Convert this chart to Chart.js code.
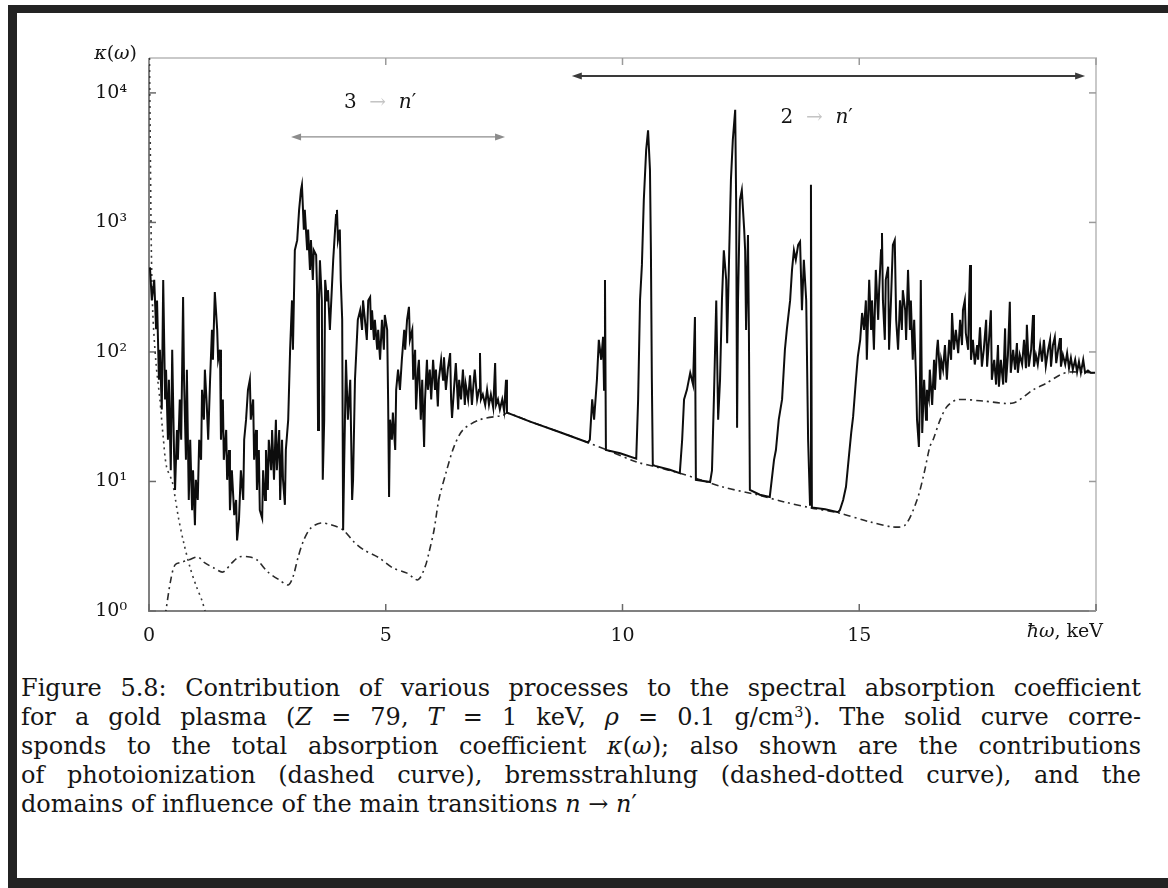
<!DOCTYPE html>
<html>
<head>
<meta charset="utf-8">
<script src="https://cdn.jsdelivr.net/npm/chart.js@4.4.1/dist/chart.umd.min.js"></script>
<style>
  html, body { margin: 0; padding: 0; background: #fff; }
  body { width: 1168px; height: 888px; position: relative; overflow: hidden; }
  .band { position: absolute; background: #232323; }
  #plotBox { position: absolute; left: 0; top: 0; width: 1168px; height: 660px; }
  #caption {
    position: absolute; left: 21px; top: 674px; width: 1120px;
    font-family: "DejaVu Serif", serif; font-size: 24px; line-height: 29px; color: #151515;
  }
  #caption .j { text-align: justify; text-align-last: justify; }
  #caption sup { font-size: 0.6em; line-height: 0; vertical-align: 0.55em; }
</style>
</head>
<body>
<div class="band" style="left:8px; top:5px; width:1160px; height:8px;"></div>
<div class="band" style="left:8px; top:5px; width:9px; height:883px;"></div>
<div class="band" style="left:8px; top:878px; width:1160px; height:10px;"></div>

<div id="plotBox"><canvas id="spectrumChart" width="1168" height="660"></canvas></div>

<div id="caption">
  <div class="j">Figure 5.8: Contribution of various processes to the spectral absorption coefficient</div>
  <div class="j">for a gold plasma (<i>Z</i> = 79, <i>T</i> = 1 keV, <i>ρ</i> = 0.1 g/cm<sup>3</sup>). The solid curve corre-</div>
  <div class="j">sponds to the total absorption coefficient <i>κ</i>(<i>ω</i>); also shown are the contributions</div>
  <div class="j">of photoionization (dashed curve), bremsstrahlung (dashed-dotted curve), and the</div>
  <div>domains of influence of the main transitions <i>n</i> → <i>n</i>′</div>
</div>

<script>
// axis ticks
const energyTicks = [0, 5, 10, 15, 20];
const energyTickLabels = ['0', '5', '10', '15', ''];
const kappaTicks = [1, 10, 100, 1000, 10000];
const kappaTickLabels = ['10⁰', '10¹', '10²', '10³', '10⁴'];

// total absorption coefficient (solid), keV / kappa
const totalEnergy = [
  0.02, 0.06, 0.11, 0.15, 0.17, 0.21, 0.23, 0.27, 0.30, 0.34,
  0.36, 0.40, 0.42, 0.46, 0.49, 0.53, 0.55, 0.59, 0.61, 0.65,
  0.68, 0.72, 0.74, 0.78, 0.80, 0.84, 0.87, 0.91, 0.93, 0.97,
  0.99, 1.03, 1.06, 1.10, 1.12, 1.16, 1.18, 1.22, 1.25, 1.29,
  1.33, 1.35, 1.39, 1.44, 1.46, 1.50, 1.52, 1.56, 1.58, 1.63,
  1.65, 1.69, 1.71, 1.75, 1.80, 1.84, 1.86, 1.90, 1.94, 1.99,
  2.01, 2.05, 2.09, 2.13, 2.15, 2.20, 2.22, 2.26, 2.28, 2.32,
  2.34, 2.39, 2.41, 2.45, 2.47, 2.51, 2.53, 2.58, 2.60, 2.64,
  2.68, 2.70, 2.75, 2.77, 2.81, 2.83, 2.87, 2.89, 2.94, 2.98,
  3.02, 3.04, 3.08,
  3.13, 3.17, 3.21, 3.23, 3.27, 3.29, 3.34, 3.36, 3.40, 3.42,
  3.46, 3.48, 3.53, 3.55, 3.57, 3.59, 3.61, 3.65, 3.67, 3.70,
  3.72, 3.76, 3.78, 3.82, 3.86, 3.89, 3.93, 3.95, 3.97, 3.99,
  4.03, 4.05, 4.08, 4.10, 4.12, 4.16, 4.20, 4.25, 4.29, 4.31,
  4.35, 4.39, 4.41, 4.46, 4.50, 4.52, 4.56, 4.60, 4.63, 4.67,
  4.69, 4.71, 4.75, 4.77, 4.82, 4.84, 4.88, 4.92, 4.96, 4.98,
  5.03, 5.05, 5.07, 5.09, 5.13, 5.15, 5.20, 5.22, 5.26, 5.30,
  5.34, 5.39, 5.41, 5.45, 5.49, 5.51, 5.56, 5.58, 5.62, 5.64,
  5.68, 5.70, 5.74, 5.77, 5.81, 5.83, 5.87, 5.89, 5.93, 5.96,
  6.00, 6.04, 6.06, 6.10, 6.12, 6.17, 6.21, 6.23, 6.27, 6.31,
  6.36, 6.38, 6.40, 6.44, 6.48, 6.53, 6.55, 6.59, 6.63, 6.67,
  6.69, 6.74, 6.78, 6.82, 6.86, 6.88, 6.93, 6.97, 6.99, 7.01,
  7.05, 7.10, 7.14, 7.18, 7.22, 7.27, 7.31, 7.33, 7.37, 7.41,
  7.46, 7.50, 7.54, 7.56,
  8.05, 8.68, 9.27, 9.31, 9.36, 9.40, 9.46, 9.50, 9.55, 9.59,
  9.61, 9.63, 9.65, 9.95, 10.29, 10.33, 10.37, 10.41, 10.45, 10.50,
  10.54, 10.58, 10.60, 10.62, 10.64, 10.69, 11.00, 11.21, 11.26, 11.30,
  11.36, 11.43, 11.49, 11.53, 11.55, 11.85, 11.89, 11.93, 11.98, 12.02,
  12.06, 12.10, 12.14, 12.19, 12.21, 12.25, 12.29, 12.33, 12.38, 12.40,
  12.42, 12.44, 12.48, 12.52, 12.57, 12.59, 12.61, 12.65, 12.67, 12.69,
  12.90, 13.11, 13.20, 13.24, 13.30, 13.37, 13.43, 13.47, 13.54, 13.58,
  13.62, 13.66, 13.71, 13.75, 13.79, 13.83, 13.88, 13.92, 13.96, 13.98,
  14.00, 14.28, 14.55,
  14.59, 14.66, 14.72, 14.78, 14.83, 14.87, 14.93, 14.97, 15.02, 15.06,
  15.10, 15.14, 15.16, 15.21, 15.25, 15.27, 15.31, 15.35, 15.40, 15.42,
  15.46, 15.48, 15.50, 15.54, 15.56, 15.61, 15.63, 15.67, 15.71, 15.75,
  15.78, 15.82, 15.86, 15.90, 15.92, 15.97, 15.99, 16.03, 16.07, 16.09,
  16.13, 16.16, 16.20, 16.22, 16.26, 16.28, 16.30, 16.33, 16.37, 16.41,
  16.43, 16.47, 16.49, 16.54, 16.58, 16.60, 16.64, 16.66, 16.71, 16.73,
  16.77, 16.81, 16.85, 16.90, 16.94, 16.96, 17.00, 17.04, 17.09, 17.13,
  17.17, 17.19, 17.23, 17.25, 17.30, 17.32, 17.34, 17.36, 17.40, 17.44,
  17.49, 17.51, 17.55, 17.59, 17.63, 17.68, 17.70, 17.74, 17.78, 17.80,
  17.85, 17.89, 17.93, 17.95, 17.99, 18.04, 18.08, 18.10, 18.14, 18.18,
  18.20, 18.25, 18.29, 18.33, 18.35, 18.39, 18.44, 18.48, 18.52, 18.54,
  18.58, 18.63, 18.67, 18.69, 18.73, 18.77, 18.82, 18.86, 18.90, 18.94,
  18.99, 19.03, 19.05, 19.09, 19.13, 19.16, 19.20, 19.24, 19.26, 19.30,
  19.35, 19.39, 19.43, 19.47, 19.51, 19.56, 19.60, 19.64, 19.68, 19.73,
  19.77, 19.83, 19.89, 19.98
];
const totalKappa = [
  450, 250, 360, 150, 250, 61, 104, 36, 360, 43,
  73, 21, 61, 12.2, 104, 16, 8.6, 25, 14.7, 43,
  21, 265, 61, 14.7, 73, 7.2, 21, 6.0, 12.2, 4.6,
  10.3, 7.2, 21, 14.7, 51, 30, 73, 39, 21, 61,
  148, 87, 290, 148, 87, 104, 21, 43, 14.7, 25,
  10.3, 17.5, 6.0, 12.2, 5.5, 7.2, 3.5, 5.0, 12.2, 7.2,
  21, 30, 51, 61, 30, 43, 14.7, 25, 8.6, 17.5,
  6.0, 5.2, 12.2, 7.2, 17.5, 8.6, 21, 12.2, 25, 10.3,
  30, 12.2, 25, 7.2, 21, 10.3, 6.6, 17.5, 30, 104,
  250, 104, 610,
  730, 1250, 1780, 1950, 880, 1250, 610, 880, 430, 730,
  360, 610, 560, 300, 25, 250, 510, 250, 10.3, 30,
  360, 250, 300, 148, 300, 510, 880, 1140, 1250, 730,
  880, 360, 177, 4.2, 12.2, 87, 30, 61, 7.2, 10.3,
  61, 124, 177, 210, 148, 250, 177, 124, 250, 265,
  148, 210, 124, 177, 104, 148, 87, 177, 104, 193,
  148, 43, 7.6, 30, 21, 34, 17.5, 51, 73, 51,
  87, 148, 104, 177, 223, 124, 148, 61, 104, 36,
  73, 87, 30, 61, 18.5, 43, 87, 51, 73, 43,
  87, 51, 73, 38, 61, 87, 61, 91, 51, 73,
  98, 43, 31, 51, 82, 36, 61, 43, 73, 39,
  56, 43, 66, 39, 61, 73, 43, 51, 98, 43,
  47, 39, 51, 39, 47, 37, 82, 39, 43, 36,
  43, 35, 61, 34,
  29, 24, 20, 21, 43, 30, 61, 124, 87, 131,
  51, 360, 17.5, 16.5, 15, 43, 250, 470, 1490, 3630,
  5150, 2550, 610, 61, 13.4, 13.2, 12.3, 11.6, 21, 43,
  51, 69, 56, 186, 10.3, 9.9, 12.2, 43, 250, 30,
  61, 250, 610, 360, 117, 515, 2130, 4340, 7400, 1490,
  26, 250, 1490, 1780, 880, 610, 148, 800, 140, 8.6,
  7.9, 7.6, 14.7, 17.5, 30, 43, 104, 148, 250, 430,
  610, 515, 670, 710, 210, 515, 250, 21, 6.6, 1950,
  6.3, 6.1, 5.8,
  6.0, 7.2, 9.1, 15.4, 23.7, 31.5, 61, 92, 124, 200,
  148, 250, 87, 360, 148, 250, 104, 430, 177, 300,
  610, 830, 250, 124, 360, 455, 104, 250, 670, 730,
  177, 104, 250, 148, 300, 210, 124, 430, 148, 250,
  87, 177, 61, 30, 18.5, 43, 360, 23.7, 61, 30,
  51, 43, 73, 39, 87, 51, 104, 124, 61, 87,
  73, 113, 61, 124, 87, 200, 104, 148, 98, 177,
  113, 210, 250, 140, 104, 250, 470, 87, 124, 80,
  113, 87, 155, 77, 104, 177, 77, 124, 210, 61,
  87, 56, 113, 54, 87, 56, 152, 58, 95, 244,
  69, 104, 73, 117, 69, 95, 80, 124, 75, 162,
  77, 104, 193, 77, 95, 80, 113, 84, 124, 78,
  104, 124, 77, 113, 130, 82, 104, 128, 77, 95,
  80, 98, 75, 90, 73, 87, 70, 84, 69, 87,
  69, 72, 69, 69
];

// photoionization (dashed)
const photoEnergy = [
  0.34, 0.36, 0.46, 0.55, 0.70, 0.84, 1.03, 1.18, 1.37, 1.56,
  1.75, 1.90, 2.13, 2.28, 2.51, 2.75, 2.94, 3.04, 3.15, 3.27,
  3.42, 3.63, 3.86, 4.10, 4.33, 4.54, 4.86, 5.15, 5.45, 5.68,
  5.83, 5.91, 6.02, 6.12, 6.27, 6.44, 6.63, 6.99, 7.48, 7.56,
  8.05, 8.68, 9.27, 9.67, 10.31, 10.73, 11.13, 11.55, 12.12, 12.86,
  13.43, 14.00, 14.57, 15.23, 15.71, 15.97, 16.22, 16.37, 16.49, 16.56,
  16.71, 16.85, 17.06, 17.61, 18.25, 18.67, 18.96, 19.24, 19.45, 19.98
];
const photoKappa = [
  0.9, 1.02, 1.74, 2.27, 2.39, 2.48, 2.61, 2.35, 2.15, 2.0,
  2.35, 2.61, 2.61, 2.48, 2.0, 1.74, 1.59, 1.83, 2.61, 3.54,
  4.38, 4.78, 4.61, 4.22, 3.41, 2.96, 2.57, 2.15, 1.96, 1.74,
  2.19, 2.80, 4.22, 7.2, 11.6, 18.5, 25, 30, 32.5, 33.8,
  29, 24, 20, 17.5, 14.1, 12.9, 11.8, 10.6, 9.06, 7.87,
  6.93, 6.23, 5.71, 4.87, 4.46, 4.61, 7.2, 11.6, 18.5, 21,
  30, 37.7, 42.7, 41.8, 40.4, 51, 57.6, 66.5, 70, 69
];

// bremsstrahlung (dashed-dotted)
const bremsEnergy = [0.01, 0.03, 0.05, 0.08, 0.15, 0.23, 0.30, 0.37, 0.49, 0.55, 0.62, 0.73, 0.87, 1.00, 1.12, 1.20];
const bremsKappa = [18600, 3000, 600, 200, 80, 43, 22, 13, 10, 7.6, 5.3, 3.4, 2.15, 1.55, 1.2, 0.95];

// domains of the main transitions n -> n'
const transitionLower = ['3', '2'];
const transitionFrom = [3.0, 8.93];
const transitionTo = [7.52, 19.77];
const transitionLevel = [4570, 13500];
const transitionLabelAt = [4.88, 14.1];
const transitionLabelLevel = [8350, 6440];

const serif = '"DejaVu Serif", serif';

function toPoints(xs, ys) {
    return xs.map((x, i) => ({ x: x, y: ys[i] }));
}

// draw a run of text pieces, [text, fontStyle, colour]
function drawPieces(ctx, pieces, x, y, size, align) {
    let width = 0;
    pieces.forEach(p => {
        ctx.font = `${p[1]} ${size}px ${serif}`;
        width += ctx.measureText(p[0]).width;
    });
    let cx = align === 'right' ? x - width : (align === 'center' ? x - width / 2 : x);
    ctx.textAlign = 'left';
    ctx.textBaseline = 'middle';
    pieces.forEach(p => {
        ctx.font = `${p[1]} ${size}px ${serif}`;
        ctx.fillStyle = p[2] || '#151515';
        ctx.fillText(p[0], cx, y);
        cx += ctx.measureText(p[0]).width;
    });
}

function arrowHead(ctx, x, y, dir) {
    ctx.beginPath();
    ctx.moveTo(x, y);
    ctx.lineTo(x - dir * 10, y - 3.5);
    ctx.lineTo(x - dir * 10, y + 3.5);
    ctx.closePath();
    ctx.fill();
}

const framePlugin = {
    id: 'framePlugin',
    beforeDatasetsDraw(chart) {
        const { ctx, chartArea: a, scales: { x, y } } = chart;
        ctx.save();
        ctx.lineWidth = 2;
        ctx.strokeStyle = '#c9c9c9';
        ctx.beginPath();
        ctx.moveTo(a.left, a.top);
        ctx.lineTo(a.right, a.top);
        ctx.lineTo(a.right, a.bottom);
        ctx.stroke();
        ctx.strokeStyle = '#808080';
        ctx.beginPath();
        ctx.moveTo(a.left, a.top);
        ctx.lineTo(a.left, a.bottom);
        ctx.lineTo(a.right, a.bottom);
        ctx.stroke();

        // inward ticks on all four sides
        ctx.lineWidth = 1.5;
        energyTicks.forEach(v => {
            const px = x.getPixelForValue(v);
            ctx.strokeStyle = '#6a6a6a';
            ctx.beginPath(); ctx.moveTo(px, a.bottom); ctx.lineTo(px, a.bottom - 7); ctx.stroke();
            ctx.strokeStyle = '#9a9a9a';
            ctx.beginPath(); ctx.moveTo(px, a.top); ctx.lineTo(px, a.top + 7); ctx.stroke();
        });
        kappaTicks.forEach(v => {
            const py = y.getPixelForValue(v);
            ctx.strokeStyle = '#6a6a6a';
            ctx.beginPath(); ctx.moveTo(a.left, py); ctx.lineTo(a.left + 7, py); ctx.stroke();
            ctx.strokeStyle = '#9a9a9a';
            ctx.beginPath(); ctx.moveTo(a.right, py); ctx.lineTo(a.right - 7, py); ctx.stroke();
        });
        ctx.restore();
    },
    afterDatasetsDraw(chart) {
        const { ctx, scales: { x, y } } = chart;
        ctx.save();

        // axis names
        drawPieces(ctx, [['κ', 'italic'], ['(', 'normal'], ['ω', 'italic'], [')', 'normal']], 137, 54, 19, 'right');
        drawPieces(ctx, [['ħω', 'italic'], [', keV', 'normal']], 1103, 632, 19, 'right');

        // transition domains
        transitionFrom.forEach((from, i) => {
            const x0 = x.getPixelForValue(from);
            const x1 = x.getPixelForValue(transitionTo[i]);
            const py = y.getPixelForValue(transitionLevel[i]);
            const colour = i === 0 ? '#8c8c8c' : '#3a3a3a';
            ctx.strokeStyle = colour;
            ctx.fillStyle = colour;
            ctx.lineWidth = i === 0 ? 1.3 : 2;
            ctx.beginPath();
            ctx.moveTo(x0 + 4, py);
            ctx.lineTo(x1 - 4, py);
            ctx.stroke();
            arrowHead(ctx, x0, py, -1);
            arrowHead(ctx, x1, py, 1);

            drawPieces(ctx, [
                [transitionLower[i], 'normal', '#151515'],
                ['  →  ', 'normal', '#c4c4c4'],
                ['n', 'italic', '#151515'],
                ['′', 'normal', '#151515']
            ], x.getPixelForValue(transitionLabelAt[i]), y.getPixelForValue(transitionLabelLevel[i]), 20, 'center');
        });
        ctx.restore();
    }
};

document.addEventListener('DOMContentLoaded', () => {
    const canvas = document.getElementById('spectrumChart');

    new Chart(canvas, {
        type: 'line',
        data: {
            datasets: [
                {
                    label: 'total',
                    data: toPoints(totalEnergy, totalKappa),
                    borderColor: '#0d0d0d',
                    borderWidth: 2,
                    pointRadius: 0,
                    tension: 0
                },
                {
                    label: 'photoionization',
                    data: toPoints(photoEnergy, photoKappa),
                    borderColor: '#2a2a2a',
                    borderWidth: 1.6,
                    borderDash: [7, 4, 2, 4],
                    pointRadius: 0,
                    tension: 0.3
                },
                {
                    label: 'bremsstrahlung',
                    data: toPoints(bremsEnergy, bremsKappa),
                    borderColor: '#3a3a3a',
                    borderWidth: 1.6,
                    borderDash: [2, 4],
                    pointRadius: 0,
                    tension: 0.3
                }
            ]
        },
        options: {
            responsive: false,
            animation: false,
            layout: { padding: { left: 0, top: 58, right: 72, bottom: 0 } },
            plugins: {
                legend: { display: false },
                tooltip: { enabled: false }
            },
            scales: {
                x: {
                    type: 'linear',
                    min: 0,
                    max: 20,
                    bounds: 'data',
                    afterBuildTicks: scale => { scale.ticks = energyTicks.map(v => ({ value: v })); },
                    afterFit: scale => { scale.height = 49; },
                    grid: { display: false },
                    border: { display: false },
                    ticks: {
                        autoSkip: false,
                        maxRotation: 0,
                        padding: 6,
                        color: '#151515',
                        font: { family: serif, size: 19 },
                        callback: (value, index) => energyTickLabels[index]
                    }
                },
                y: {
                    type: 'logarithmic',
                    min: 1,
                    max: 18600,
                    bounds: 'data',
                    afterBuildTicks: scale => { scale.ticks = kappaTicks.map(v => ({ value: v })); },
                    afterFit: scale => { scale.width = 149; },
                    grid: { display: false },
                    border: { display: false },
                    ticks: {
                        autoSkip: false,
                        padding: 14,
                        color: '#151515',
                        font: { family: serif, size: 19 },
                        callback: (value, index) => kappaTickLabels[index]
                    }
                }
            }
        },
        plugins: [framePlugin]
    });
});
</script>
</body>
</html>
